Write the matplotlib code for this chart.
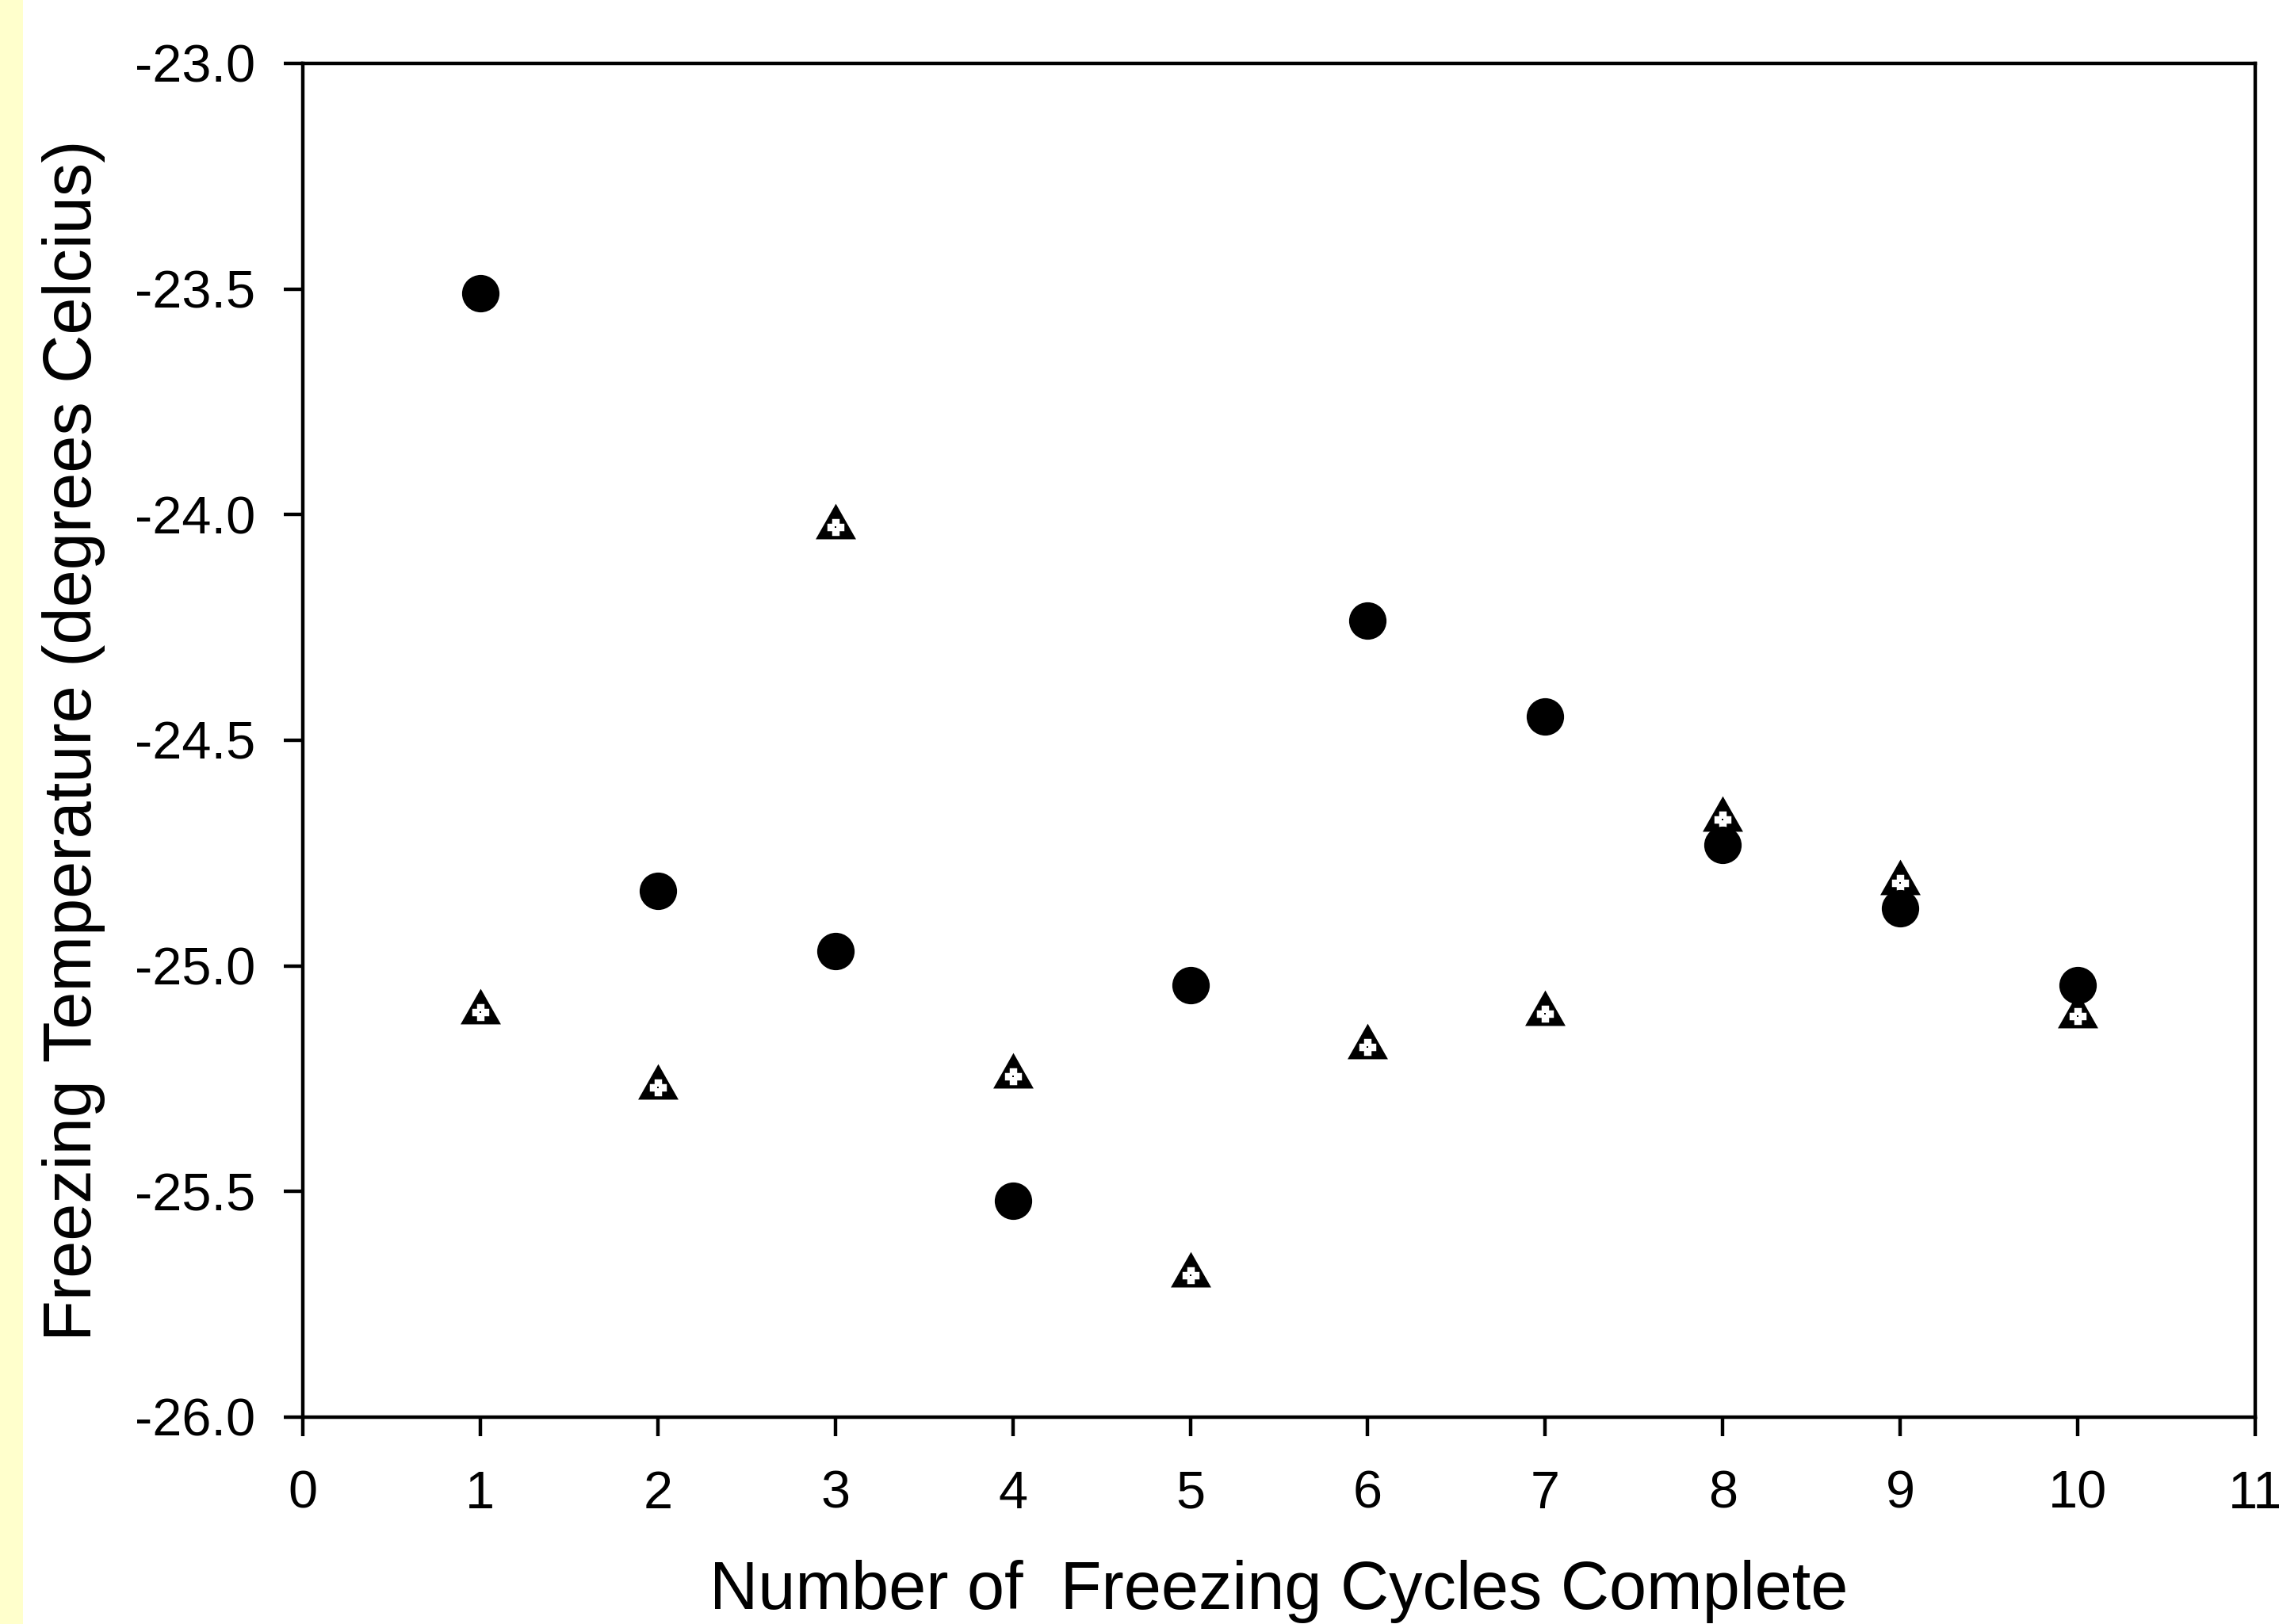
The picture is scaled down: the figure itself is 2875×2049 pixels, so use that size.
import numpy as np
import matplotlib
matplotlib.use("Agg")
import matplotlib.pyplot as plt
from matplotlib.patches import Rectangle

#%% data
cycles = [1, 2, 3, 4, 5, 6, 7, 8, 9, 10]
temp_circle = [-23.51, -24.833, -24.968, -25.52, -25.042, -24.234, -24.447, -24.732, -24.872, -25.043]
temp_triangle = [-25.103, -25.27, -24.028, -25.245, -25.685, -25.18, -25.106, -24.676, -24.817, -25.111]

xticks = list(range(0, 12))
yticks = [-26.0, -25.5, -25.0, -24.5, -24.0, -23.5, -23.0]

#%% figure
plt.rcParams['font.family'] = ['Liberation Sans', 'DejaVu Sans']

fig = plt.figure(figsize=(28.75, 20.49), dpi=100)
fig.patch.set_facecolor('white')
fig.patches.append(Rectangle((0, 0), 29 / 2875, 1, transform=fig.transFigure,
                             facecolor='#ffffcc', edgecolor='none', zorder=0))

ax = fig.add_axes([382 / 2875, 1 - 1788 / 2049, (2845 - 382) / 2875, (1788 - 80) / 2049])

# triangle with centroid at the data point
tri = [(-1.0, -0.587), (1.0, -0.587), (0.0, 1.173), (-1.0, -0.587)]
ax.plot(cycles, temp_triangle, linestyle='none', marker=tri, markersize=43,
        markerfacecolor='black', markeredgecolor='black', markeredgewidth=0, zorder=3)
ax.plot(cycles, temp_triangle, linestyle='none', marker='P', markersize=13,
        markerfacecolor='white', markeredgecolor='white', markeredgewidth=2.5, zorder=4)
ax.plot(cycles, temp_triangle, linestyle='none', marker='s', markersize=1.8,
        markerfacecolor='black', markeredgewidth=0, zorder=5)

ax.plot(cycles, temp_circle, linestyle='none', marker='o', markersize=34,
        markerfacecolor='black', markeredgecolor='black', markeredgewidth=0, zorder=6)

ax.set_xlim(0, 11)
ax.set_ylim(-26.0, -23.0)
ax.set_xticks(xticks)
ax.set_yticks(yticks)
ax.set_yticklabels(['%.1f' % v for v in yticks])

for s in ax.spines.values():
    s.set_linewidth(3.2)
ax.tick_params(axis='both', direction='out', length=17, width=3.2, labelsize=48)
ax.tick_params(axis='x', pad=31)
ax.tick_params(axis='y', pad=26)

ax.set_xlabel('Number of  Freezing Cycles Complete', fontsize=61)
ax.set_ylabel('Freezing Temperature (degrees Celcius)', fontsize=61)
ax.xaxis.set_label_coords(0.5, -0.1054)
ax.xaxis.label.set_va('top')
ax.yaxis.set_label_coords(-0.101, 0.5)

fig.savefig('out.png', dpi=100)
